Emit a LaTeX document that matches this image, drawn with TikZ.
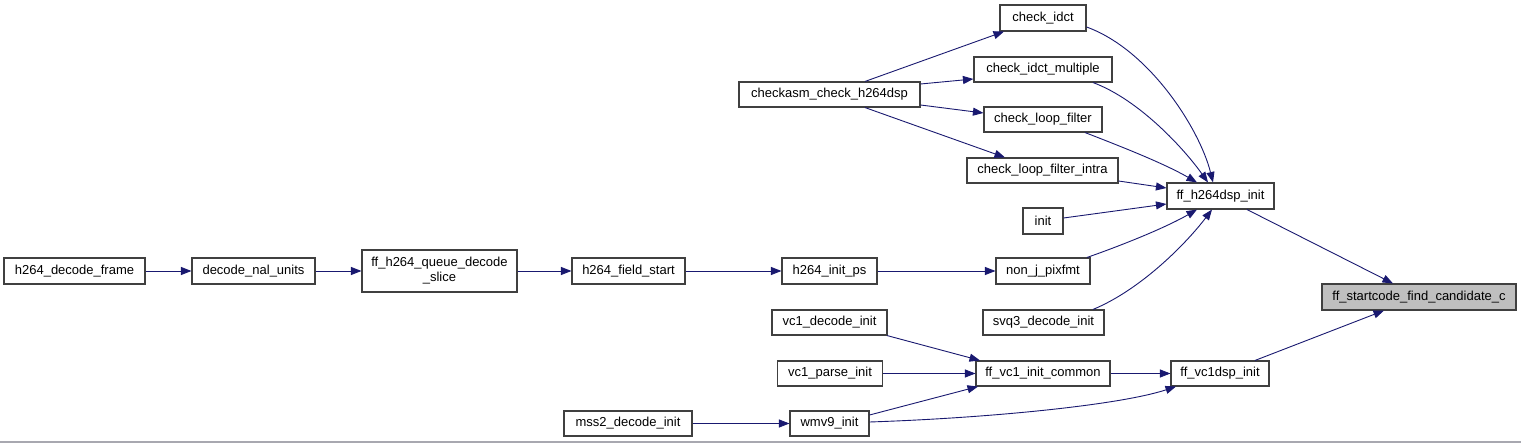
\documentclass[tikz,border=0pt]{standalone}
\usepackage{fontspec}
\setmainfont{Liberation Sans}
\usetikzlibrary{arrows.meta}
\definecolor{edgeblue}{HTML}{191970}
\definecolor{boxline}{HTML}{404040}
\definecolor{hilite}{HTML}{BFBFBF}
\definecolor{bottomgray}{HTML}{A8A8B0}
\begin{document}
\begin{tikzpicture}[x=1pt,y=-1pt,
  fn/.style={draw=boxline,line width=1.1pt,fill=white,inner sep=0pt,minimum height=25pt,
    font=\fontsize{13}{15}\selectfont,align=center},
  cur/.style={fn,fill=hilite},
  edge/.style={draw=edgeblue,line width=0.9pt,-{Triangle[length=10.5pt,width=8pt]}}]
\useasboundingbox (0,0) rectangle (1521,443);
\fill[white] (0,0) rectangle (1521,443);
\draw[draw=bottomgray,line width=1.5pt] (0,441.8) -- (1521,441.8);

% nodes
\node[fn,minimum width=86pt,minimum height=26pt] (cidct) at (1043,18) {check\_idct};
\node[fn,minimum width=138pt] (cidm) at (1043,69.5) {check\_idct\_multiple};
\node[fn,minimum width=181pt] (casm) at (829.5,94.5) {checkasm\_check\_h264dsp};
\node[fn,minimum width=118pt] (clf) at (1043,119.5) {check\_loop\_filter};
\node[fn,minimum width=151pt] (clfi) at (1042.5,170.5) {check\_loop\_filter\_intra};
\node[fn,minimum width=107pt,minimum height=26pt] (ffh) at (1220.5,196) {ff\_h264dsp\_init};
\node[fn,minimum width=40pt,minimum height=26pt] (init) at (1043,221) {init};
\node[fn,minimum width=94pt,minimum height=26pt] (nonj) at (1043,271) {non\_j\_pixfmt};
\node[fn,minimum width=121pt] (svq3) at (1043.5,322.5) {svq3\_decode\_init};
\node[cur,minimum width=194pt,minimum height=26pt] (sc) at (1419,297) {ff\_startcode\_find\_candidate\_c};
\node[fn,minimum width=141pt,minimum height=26pt] (hdf) at (74.5,271) {h264\_decode\_frame};
\node[fn,minimum width=123pt,minimum height=26pt] (dnu) at (253.5,271) {decode\_nal\_units};
\node[fn,minimum width=155pt,minimum height=42pt] (qds) at (439.5,271) {ff\_h264\_queue\_decode\\\_slice};
\node[fn,minimum width=113pt,minimum height=26pt] (hfs) at (628.5,271) {h264\_field\_start};
\node[fn,minimum width=95pt,minimum height=26pt] (hip) at (829.5,271) {h264\_init\_ps};
\node[fn,minimum width=115pt] (vdi) at (829.5,322.5) {vc1\_decode\_init};
\node[fn,minimum width=105pt] (vpi) at (830,373.5) {vc1\_parse\_init};
\node[fn,minimum width=134pt] (vic) at (1043,373.5) {ff\_vc1\_init\_common};
\node[fn,minimum width=98pt] (vds) at (1220,373.5) {ff\_vc1dsp\_init};
\node[fn,minimum width=128pt] (mss) at (628,423.5) {mss2\_decode\_init};
\node[fn,minimum width=79pt] (wmv) at (829.5,423.5) {wmv9\_init};

% edges
\draw[edge] ([xshift=35.5pt]casm.north) -- ([xshift=-39pt]cidct.south);
\draw[edge] ([yshift=10.5pt]casm.east) -- ([yshift=-9.5pt]cidm.west);
\draw[edge] ([yshift=-10.5pt]casm.east) -- ([yshift=6.5pt]clf.west);
\draw[edge] ([xshift=35.5pt]casm.south) -- ([xshift=-37.5pt]clfi.north);

\draw[edge] ([yshift=-9pt]cidct.east) .. controls (1150,50) and (1200,130) .. ([xshift=-7.5pt]ffh.north);
\draw[edge] ([xshift=50pt]cidm.south) .. controls (1140,100) and (1185,150) .. ([xshift=-12.5pt]ffh.north);
\draw[edge] ([xshift=42pt]clf.south) .. controls (1125,148) and (1165,164) .. ([xshift=-23.5pt]ffh.north);
\draw[edge] ([yshift=-10.5pt]clfi.east) -- ([yshift=8pt]ffh.west);
\draw[edge] ([yshift=3pt]init.east) -- ([yshift=-8pt]ffh.west);
\draw[edge] ([xshift=44pt]nonj.north) .. controls (1120,246) and (1165,228) .. ([xshift=-23.5pt]ffh.south);
\draw[edge] ([xshift=49.5pt]svq3.north) .. controls (1140,290) and (1185,245) .. ([xshift=-8.5pt]ffh.south);

\draw[edge] ([xshift=26.5pt]ffh.south) -- ([xshift=-26pt]sc.north);
\draw[edge] ([xshift=35pt]vds.north) -- ([xshift=-35pt]sc.south);

\draw[edge] (vic.east) -- (vds.west);
\draw[edge] ([yshift=8.5pt]wmv.east) -- ([xshift=-65pt]vic.south);
\draw[edge] ([yshift=1.5pt]wmv.east) .. controls (990,418) and (1120,405) .. ([xshift=-44pt]vds.south);
\draw[edge] ([xshift=57.5pt]vdi.south) -- ([xshift=-63pt]vic.north);
\draw[edge] (vpi.east) -- (vic.west);

\draw[edge] (mss.east) -- (wmv.west);
\draw[edge] (hdf.east) -- (dnu.west);
\draw[edge] (dnu.east) -- (qds.west);
\draw[edge] (qds.east) -- (hfs.west);
\draw[edge] (hfs.east) -- (hip.west);
\draw[edge] (hip.east) -- (nonj.west);
\end{tikzpicture}
\end{document}
